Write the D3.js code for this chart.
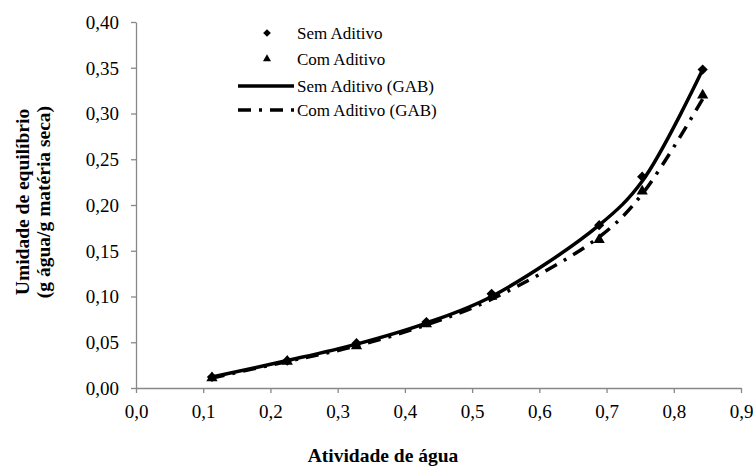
<!DOCTYPE html>
<html><head><meta charset="utf-8">
<script src="https://cdn.jsdelivr.net/npm/d3@7"></script>
<style>body{margin:0;background:#fff}svg{display:block}
text{font-family:"Liberation Serif","Times New Roman",Tinos,serif}</style>
</head><body>
<svg id="c" width="753" height="466"></svg>
<script>
const aw = [0.113, 0.225, 0.328, 0.432, 0.529, 0.689, 0.753, 0.843];
const semAditivo = [0.012, 0.030, 0.049, 0.072, 0.103, 0.178, 0.231, 0.348];
const comAditivo = [0.011, 0.029, 0.046, 0.070, 0.100, 0.162, 0.215, 0.320];
const semGAB = [0.012, 0.030, 0.048, 0.071, 0.100, 0.178, 0.226, 0.348];
const comGAB = [0.011, 0.029, 0.046, 0.069, 0.097, 0.165, 0.212, 0.316];
const xTicks = [0,0.1,0.2,0.3,0.4,0.5,0.6,0.7,0.8,0.9];
const yTicks = [0,0.05,0.10,0.15,0.20,0.25,0.30,0.35,0.40];
const legendLabels = ["Sem Aditivo","Com Aditivo","Sem Aditivo (GAB)","Com Aditivo (GAB)"];
const xTitle = "Atividade de água";
const yTitle = ["Umidade de equilíbrio","(g água/g matéria seca)"];

const svg = d3.select("#c");
const x = d3.scaleLinear().domain([0,0.9]).range([136,741]);
const y = d3.scaleLinear().domain([0,0.4]).range([388,22]);
const fmtX = d => d3.format(".1f")(d).replace(".",",");
const fmtY = d => d3.format(".2f")(d).replace(".",",");

const xa = svg.append("g").attr("transform","translate(0,388)")
  .call(d3.axisBottom(x).tickValues(xTicks).tickFormat(fmtX).tickSize(5).tickSizeOuter(0));
const ya = svg.append("g").attr("transform","translate(136,0)")
  .call(d3.axisLeft(y).tickValues(yTicks).tickFormat(fmtY).tickSize(5).tickSizeOuter(0));
[xa,ya].forEach(a=>{
  a.attr("font-family",null).attr("font-size",null);
  a.selectAll("path,line").attr("stroke","#888").attr("stroke-width",1.3);
  a.selectAll("text").attr("font-size",19).attr("fill","#000");
});
xa.selectAll("text").attr("y",30).attr("dy",0);
ya.selectAll("text").attr("x",-17).attr("dy","0.34em");

const ptsSemGAB = aw.map((a,i)=>[a,semGAB[i]]);
const ptsComGAB = aw.map((a,i)=>[a,comGAB[i]]);
const line = d3.line().x(d=>x(d[0])).y(d=>y(d[1])).curve(d3.curveCatmullRom.alpha(0.5));
svg.append("path").attr("d",line(ptsComGAB)).attr("fill","none").attr("stroke","#000")
  .attr("stroke-width",3.5).attr("stroke-dasharray","13,8,3,8");
svg.append("path").attr("d",line(ptsSemGAB)).attr("fill","none").attr("stroke","#000")
  .attr("stroke-width",3.5);

const diamond = d3.symbol().type(d3.symbolSquare).size(52);
const tri = d3.symbol().type(d3.symbolTriangle).size(55);
svg.append("g").selectAll("path").data(aw).join("path")
  .attr("d",tri).attr("transform",(d,i)=>`translate(${x(d)},${y(comAditivo[i])})`).attr("fill","#000");
svg.append("g").selectAll("path").data(aw).join("path")
  .attr("d",diamond).attr("transform",(d,i)=>`translate(${x(d)},${y(semAditivo[i])}) rotate(45)`).attr("fill","#000");

// legend
const lg = svg.append("g");
const rows = [33,59,86,110];
lg.append("path").attr("d",d3.symbol().type(d3.symbolSquare).size(30)).attr("transform",`translate(267,${rows[0]}) rotate(45)`);
lg.append("path").attr("d",d3.symbol().type(d3.symbolTriangle).size(28)).attr("transform",`translate(267,${rows[1]})`);
lg.append("line").attr("x1",238).attr("x2",294).attr("y1",rows[2]).attr("y2",rows[2]).attr("stroke","#000").attr("stroke-width",3.5);
lg.append("line").attr("x1",238).attr("x2",294).attr("y1",rows[3]).attr("y2",rows[3]).attr("stroke","#000").attr("stroke-width",3.5).attr("stroke-dasharray","13,8,3,8");
lg.selectAll("text").data(legendLabels).join("text")
  .attr("x",297).attr("y",(d,i)=>rows[i]).attr("dy","0.34em")
  .attr("font-size",17).text(d=>d);

svg.append("text").attr("x",383).attr("y",462).attr("text-anchor","middle")
  .attr("font-size",19.5).attr("font-weight","bold").text(xTitle);
svg.append("g").attr("transform","translate(0,202) rotate(-90)").selectAll("text").data(yTitle).join("text")
  .attr("x",0).attr("y",(d,i)=>[28.5,50][i]).attr("text-anchor","middle")
  .attr("font-size",19.5).attr("font-weight","bold").text(d=>d);
</script>
</body></html>
